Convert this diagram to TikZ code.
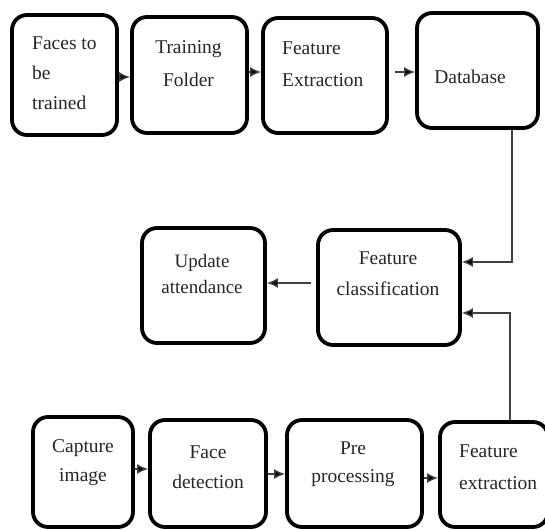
\documentclass[tikz,border=0pt]{standalone}
\usepackage{fontspec}
\setmainfont{Liberation Serif}
\usetikzlibrary{arrows.meta,calc}
\begin{document}
\begin{tikzpicture}[x=1pt,y=-1pt,
  box/.style={draw=black, line width=3.8pt, rounded corners=15pt, inner sep=0pt, fill=white},
  lbl/.style={font=\fontsize{19}{31}\selectfont, text=black!85, inner sep=0pt},
  arr/.style={line width=1.4pt, draw=black!75, -{Latex[length=11pt,width=10pt,fill=black]}}
]
\useasboundingbox (0,0) rectangle (545,529);
% top row
\node[box, minimum width=105pt, minimum height=120pt] (b1) at (64.5,75) {};
\node[box, minimum width=115pt, minimum height=116pt] (b2) at (189.5,75) {};
\node[box, minimum width=124pt, minimum height=115pt] (b3) at (325,75.5) {};
\node[box, minimum width=121pt, minimum height=115pt] (b4) at (477.5,70.5) {};
% middle row
\node[box, minimum width=123pt, minimum height=115pt] (u) at (203.5,285.5) {};
\node[box, minimum width=142pt, minimum height=115pt] (c) at (389,287.5) {};
% bottom row
\node[box, minimum width=100pt, minimum height=110pt] (d1) at (83,472) {};
\node[box, minimum width=116pt, minimum height=107pt] (d2) at (208,473.5) {};
\node[box, minimum width=135pt, minimum height=107pt] (d3) at (354.5,473.5) {};
\node[box, minimum width=108pt, minimum height=105pt] (d4) at (494,474.5) {};

% labels
\node[lbl, align=left, anchor=west, font=\fontsize{19.5}{30}\selectfont] (t1) at (32,73) {Faces to\\be\\trained};
\node[lbl, align=center, font=\fontsize{19.5}{33}\selectfont] (t2) at (188.5,63.5) {Training\\Folder};
\node[lbl, align=left, anchor=west, font=\fontsize{19.5}{32}\selectfont] (t3) at (282,64) {Feature\\Extraction};
\node[lbl, font=\fontsize{19.5}{31}\selectfont] (t4) at (470,77) {Database};
\node[lbl, align=center, font=\fontsize{19}{26}\selectfont] (tu) at (202,274) {Update\\attendance};
\node[lbl, align=center, font=\fontsize{19.5}{31}\selectfont] (tc) at (388,274) {Feature\\classification};
\node[lbl, align=center, font=\fontsize{19.5}{29}\selectfont] (td1) at (83,462.5) {Capture\\image};
\node[lbl, align=center, font=\fontsize{19.5}{30}\selectfont] (td2) at (208,467) {Face\\detection};
\node[lbl, align=center, font=\fontsize{19.5}{28}\selectfont] (td3) at (353,464) {Pre\\processing};
\node[lbl, align=left, anchor=west, font=\fontsize{19.5}{32}\selectfont] (td4) at (459,467) {Feature\\extraction};

% connectors
\coordinate (s34) at ([xshift=6pt]b3.east);
\coordinate (cw) at ([xshift=-5pt]c.west);
\draw[arr] (b1.east |- 0,77) -- (b2.west |- 0,77);
\draw[arr] (b2.east |- 0,72) -- (b3.west |- 0,72);
\draw[arr] (s34 |- 0,72) -- (b4.west |- 0,72);
\draw[arr] (b4.south -| 512,0) |- (c.east |- 0,262);
\draw[arr] (cw |- 0,283) -- (u.east |- 0,283);
\draw[arr] (d4.north -| 510,0) |- (c.east |- 0,313);
\draw[arr] (d1.east |- 0,469) -- (d2.west |- 0,469);
\draw[arr] (d2.east |- 0,474) -- (d3.west |- 0,474);
\draw[arr] (d3.east |- 0,478) -- (d4.west |- 0,478);
\end{tikzpicture}
\end{document}
